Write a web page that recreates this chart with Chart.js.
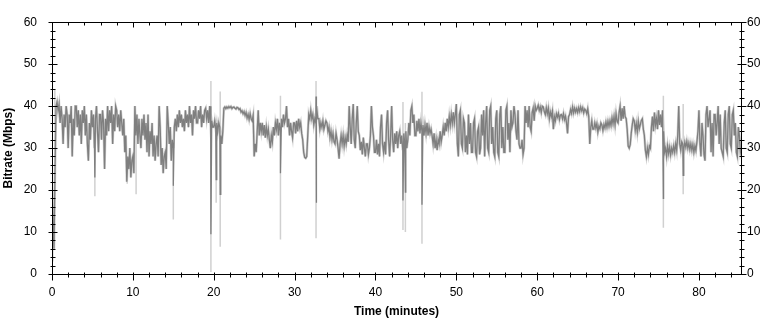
<!DOCTYPE html>
<html>
<head>
<meta charset="utf-8">
<script src="https://cdn.jsdelivr.net/npm/chart.js@4"></script>
<style>
  html, body { margin: 0; padding: 0; background: #fff; }
</style>
</head>
<body>
<canvas id="bitrateChart" width="772" height="322"></canvas>
<script>
const sampleStep = 0.125;
const bitrate = [
  20, 12, 6, 25, 40, 41, 39, 40.5,
  36, 40, 37, 31, 38, 35, 40, 38,
  30, 38, 36, 40, 28, 37, 33, 40,
  40, 35, 39, 33, 38, 31, 39, 36,
  40, 33, 38, 31, 27, 36, 32, 39,
  35, 38, 30, 37, 40, 34, 29, 38,
  38, 32, 39, 36, 25, 37, 33, 40,
  34, 39, 36, 40, 31, 38, 34, 40,
  39, 35, 38, 34, 39, 36, 33, 37,
  29, 33, 22, 28, 25, 30, 23, 27,
  28, 24, 40, 33, 38, 31, 37, 33,
  30, 37, 33, 38, 32, 36, 29, 38,
  28, 34, 31, 36, 28, 33, 27, 31,
  33, 28, 40, 35, 26, 30, 24, 28,
  29, 25, 40, 36, 31, 35, 27, 32,
  30, 35, 37, 34, 38, 35, 39, 36,
  38, 35, 37, 34, 39, 36, 38, 35,
  40, 36, 38, 33, 39, 37, 40, 36,
  36, 39, 37, 40, 35, 38, 36, 39,
  39.5, 37, 39, 36, 40, 35, 36.5, 35,
  35, 36.5, 34.5, 36, 34, 36, 35, 33,
  31, 34, 39.5, 39.8, 39.4, 39.8, 39.5, 39.9,
  39.6, 39.9, 39.4, 39.7, 39.8, 39.5, 39.3, 39.7,
  39.6, 39.2, 39.4, 38.6, 38.9, 38.2, 38.7, 37.8,
  38.5, 37.2, 38, 36.8, 38.2, 37, 36.5, 37.8,
  28, 31, 29, 34, 39, 33, 36, 34,
  36, 33, 35.5, 32.5, 35, 33, 34.5, 32,
  30, 33, 31.5, 35, 33, 36, 34.5, 37,
  33, 36, 34, 37, 35, 38, 36, 37,
  40, 35, 37, 33, 36, 34, 32.5, 36,
  36, 33.5, 36.5, 34, 37, 35, 36, 33.5,
  32, 29, 27.8, 27.6, 28, 33, 38, 37,
  39, 37, 38, 35.5, 37, 36, 40, 37,
  37, 34.5, 36, 35, 36.5, 34.5, 35.5, 36.5,
  36, 34, 35, 32.5, 34, 32, 33.5, 31.5,
  31, 33.5, 32, 30, 27.5, 31, 33, 31,
  33, 30.5, 32.5, 31, 33, 31.5, 40, 35,
  31, 37, 40.5, 32, 30, 36, 40, 34,
  33, 29.5, 31.5, 28.5, 32.5, 30, 28, 31,
  31, 28.5, 30, 33, 40, 35, 33, 29,
  29, 32, 28.5, 31, 28, 35, 38, 31,
  29, 31.5, 28.5, 36, 39, 32, 28, 33,
  40, 32, 29, 33.5, 31, 34, 30, 33,
  34, 31, 33, 29.5, 33.5, 31, 34, 30,
  32, 36, 33, 39, 40, 36, 38, 33,
  33, 36.5, 34, 37, 33.5, 36, 34, 35.5,
  33, 35.5, 33.5, 36, 33, 35, 33.5, 34.5,
  33, 31, 33.5, 30, 32, 29.5, 32, 31,
  34, 31.5, 33, 35, 33, 36, 34, 37,
  35, 37.5, 35.5, 38, 36, 38.5, 36, 38,
  40.5, 31, 28, 38, 39, 31, 30, 37,
  36, 29, 33, 28.5, 38, 31, 36, 29,
  29, 36, 37, 29, 28, 34, 35, 28.5,
  30, 38, 33, 39, 28, 36, 40, 30,
  29, 39, 40, 31, 35, 29, 28, 37,
  39, 29, 28, 38, 40, 30, 35, 29,
  29, 39, 40, 32, 36, 29, 39, 35,
  36, 40, 38, 34, 32, 39, 31, 30,
  30, 32, 28.5, 30, 40, 36, 39, 35,
  40, 35, 34, 38.5, 39.5, 36.5, 40, 39,
  39.5, 40.2, 39, 39.8, 38.5, 40, 39.8, 38.7,
  38, 39.6, 38.2, 39.5, 37, 38.6, 37.5, 38.8,
  34.5, 37.5, 36.5, 38.2, 37.4, 38.3, 36.8, 37.9,
  38, 37, 38.2, 36.8, 37.6, 36, 33.5, 37.5,
  38, 39.2, 38.3, 39.8, 38.4, 39.5, 38.6, 39.4,
  38.5, 39.6, 38.7, 39.8, 38.9, 39.6, 38.4, 39.3,
  39, 38.2, 39.4, 37.5, 31, 35, 36.5, 34.5,
  34.5, 36, 34.8, 35.8, 33.8, 35.2, 34.6, 36,
  35.5, 34.2, 35.6, 34.8, 36.2, 35, 36.4, 35.2,
  36.5, 35.4, 37.2, 35.8, 37.5, 35.5, 38.2, 36.4,
  36, 38.5, 40, 36.5, 39.5, 37, 40, 37.5,
  37, 34.5, 30.5, 30, 30.8, 33.5, 35.5, 37,
  36.5, 34.2, 35.8, 33.8, 36.4, 34.6, 35.6, 36.6,
  37, 34.5, 33, 29.5, 28, 30, 28.5, 30.5,
  30, 35, 37.5, 34, 38.5, 35.5, 37, 34.5,
  39, 35.5, 38, 35, 39, 34, 29, 30,
  28, 30.5, 28.7, 30.2, 28.4, 30, 29, 30.5,
  29, 31, 29.5, 33, 40, 31, 29.5, 31.5,
  31, 29.8, 31.4, 30.2, 31.6, 30, 31.2, 29.7,
  31, 29.5, 30.8, 29, 30.5, 29.4, 31.5, 34,
  39, 31, 28, 36, 33, 28.5, 27, 38,
  40, 35, 37, 39, 29, 36, 28, 38,
  38, 33, 36, 40, 31, 38, 30, 29,
  28, 36, 39, 30, 29, 38, 40, 31,
  30, 38, 39, 33, 36, 29, 28, 35,
  33, 29, 30
];

// Short dips / peaks of the main trace
const dipMinutes = [5.3, 15.0, 19.65, 20.3, 20.8, 28.25, 32.65, 43.4, 43.7, 45.75, 75.6, 78.05];
const dipLow     = [23, 21, 9.5, 22.5, 19, 24, 17, 17.5, 19.5, 16.5, 18, 23.5];
const dipHigh    = [null, null, 40, null, null, null, 42.3, null, null, null, null, null];

// Extremes of the light (peak) trace
const peakMinutes = [0.1, 0.35, 5.3, 9.3, 10.4, 15.0, 19.65, 20.3, 20.8, 28.25, 32.65, 43.4, 43.7, 45.75, 75.6, 78.05];
const peakLow     = [3, null, 18.5, 21.5, 19, 13, 0.5, 17, 6.5, 8.2, 8.5, 10.5, 10, 7.2, 11, 19];
const peakHigh    = [null, 44, null, null, null, null, 46, null, 43.5, 42.5, 46, 41, 36, 43.4, 42.5, 40.5];

const xMax = 85.2;
const yMax = 60;

const baseAt = t => bitrate[Math.round(t / sampleStep)];

// main trace with the dips pushed in at their own times
const buildTrace = () => {
  const pts = bitrate.map((v, i) => ({ x: i * sampleStep, y: v, o: 0 }));
  dipMinutes.forEach((t, i) => {
    if (dipHigh[i] !== null) pts.push({ x: t, y: dipHigh[i], o: 1 });
    pts.push({ x: t, y: dipLow[i], o: 2 });
  });
  pts.sort((a, b) => a.x - b.x || a.o - b.o);
  return pts.map(p => ({ x: p.x, y: p.y }));
};

// light vertical strokes, broken apart with nulls
const buildPeaks = () => {
  const pts = [];
  peakMinutes.forEach((t, i) => {
    pts.push({ x: t, y: peakHigh[i] !== null ? peakHigh[i] : baseAt(t) });
    pts.push({ x: t, y: peakLow[i] !== null ? peakLow[i] : baseAt(t) });
    pts.push({ x: t, y: null });
  });
  return pts;
};

// Crossing tick marks and the frame round the plot
const tickMarks = {
  id: 'tickMarks',
  afterDatasetsDraw(chart) {
    const { ctx, chartArea: a, scales } = chart;
    const left = Math.round(a.left) + 0.5;
    const right = Math.round(a.right) + 0.5;
    const top = Math.round(a.top) + 0.5;
    const bottom = Math.round(a.bottom) + 0.5;
    ctx.save();
    ctx.strokeStyle = '#000';
    ctx.lineWidth = 1;
    ctx.beginPath();
    for (let v = 0; v <= yMax; v += 2) {
      const y = Math.round(scales.y.getPixelForValue(v)) + 0.5;
      const len = v % 10 === 0 ? 4 : 2;
      ctx.moveTo(left - len, y); ctx.lineTo(left + len + 1, y);
      ctx.moveTo(right - len, y); ctx.lineTo(right + len + 1, y);
    }
    for (let m = 0; m <= xMax; m += 2) {
      const x = Math.round(scales.x.getPixelForValue(m)) + 0.5;
      const major = m % 10 === 0;
      ctx.moveTo(x, bottom - 2); ctx.lineTo(x, bottom + (major ? 5 : 2) + 1);
      ctx.moveTo(x, top); ctx.lineTo(x, top + (major ? 5 : 3));
    }
    ctx.moveTo(left, top); ctx.lineTo(right, top);
    ctx.lineTo(right, bottom); ctx.lineTo(left, bottom); ctx.closePath();
    ctx.stroke();
    ctx.restore();
  }
};

const tickFont = { family: 'Liberation Sans, Arial, sans-serif', size: 12 };
const titleFont = { family: 'Liberation Sans, Arial, sans-serif', size: 12, weight: 'bold' };

new Chart(document.getElementById('bitrateChart'), {
  type: 'line',
  data: {
    datasets: [
      {
        label: 'Bitrate',
        data: buildTrace(),
        borderColor: '#7f7f7f',
        borderWidth: 1.3,
        pointRadius: 0,
        tension: 0,
        order: 0
      },
      {
        label: 'Envelope',
        data: bitrate.map((v, i) => ({ x: i * sampleStep, y: v })),
        borderColor: '#d0d0d0',
        borderWidth: 2.5,
        pointRadius: 0,
        tension: 0,
        order: 1
      },
      {
        label: 'Peaks',
        data: buildPeaks(),
        borderColor: '#d0d0d0',
        borderWidth: 1.5,
        pointRadius: 0,
        spanGaps: false,
        order: 2
      }
    ]
  },
  options: {
    responsive: false,
    animation: false,
    devicePixelRatio: 1,
    layout: { padding: 0 },
    plugins: { legend: { display: false }, tooltip: { enabled: false } },
    scales: {
      x: {
        type: 'linear', position: 'bottom', min: 0, max: xMax,
        grid: { display: false, drawTicks: false }, border: { display: false },
        ticks: { stepSize: 10, includeBounds: false, padding: 11, color: '#000', font: tickFont, maxRotation: 0 },
        title: { display: true, text: 'Time (minutes)', color: '#000', font: titleFont, padding: { top: 0, bottom: 3 } },
        afterFit: s => { s.height = 48; }
      },
      x2: {
        type: 'linear', position: 'top', min: 0, max: xMax,
        grid: { display: false, drawTicks: false }, border: { display: false },
        ticks: { display: false },
        afterFit: s => { s.height = 13; }
      },
      y: {
        type: 'linear', position: 'left', min: 0, max: yMax,
        grid: { display: false, drawTicks: false }, border: { display: false },
        ticks: { stepSize: 10, padding: 15, color: '#000', font: tickFont },
        title: { display: true, text: 'Bitrate (Mbps)', color: '#000', font: titleFont, padding: { top: 1, bottom: 0 } },
        afterFit: s => { s.width = 52; }
      },
      y2: {
        type: 'linear', position: 'right', min: 0, max: yMax,
        grid: { display: false, drawTicks: false }, border: { display: false },
        ticks: { stepSize: 10, padding: 6, color: '#000', font: tickFont },
        afterFit: s => { s.width = 31; }
      }
    }
  },
  plugins: [tickMarks]
});
</script>
</body>
</html>
